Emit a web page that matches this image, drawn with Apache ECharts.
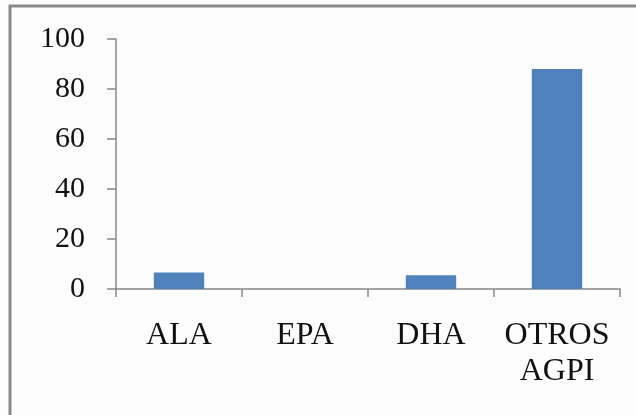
<!DOCTYPE html>
<html>
<head>
<meta charset="utf-8">
<script src="https://cdn.jsdelivr.net/npm/echarts@6/dist/echarts.min.js"></script>
<style>
  html, body { margin: 0; padding: 0; background: #fdfdfd; }
  #chart { width: 636px; height: 415px; }
</style>
</head>
<body>
<div id="chart"></div>
<script>
const categories = ['ALA', 'EPA', 'DHA', 'OTROS\nAGPI']
const values = [6.6, 0, 5.5, 88]
const yTicks = [0, 20, 40, 60, 80, 100]

const AXIS_COLOR = '#878787'
const BAR_COLOR = '#4f81bd'
const FONT = 'Liberation Serif'

const chart = echarts.init(document.getElementById('chart'))

chart.setOption({
  backgroundColor: '#fdfdfd',
  animation: false,
  // marco exterior (solo se ven los bordes izquierdo y superior)
  graphic: [{
    type: 'rect',
    shape: { x: 10, y: 6, width: 700, height: 500 },
    style: { fill: 'none', stroke: '#8a8a8a', lineWidth: 3 },
    silent: true,
  }],
  grid: { left: 116, right: 16, top: 39, bottom: 126, containLabel: false },
  xAxis: {
    type: 'category',
    data: categories,
    axisLine: { lineStyle: { color: AXIS_COLOR, width: 1.5 } },
    axisTick: { show: true, length: 8, lineStyle: { color: AXIS_COLOR, width: 1.5 } },
    axisLabel: {
      margin: 29,
      fontFamily: FONT,
      fontSize: 32,
      lineHeight: 36,
      color: '#111',
      interval: 0,
    },
  },
  yAxis: {
    type: 'value',
    min: yTicks[0],
    max: yTicks[yTicks.length - 1],
    interval: yTicks[1] - yTicks[0],
    splitLine: { show: false },
    axisLine: { show: true, lineStyle: { color: AXIS_COLOR, width: 1.5 } },
    axisTick: { show: true, length: 9, lineStyle: { color: AXIS_COLOR, width: 1.5 } },
    axisLabel: {
      margin: 31,
      fontFamily: FONT,
      fontSize: 30,
      color: '#111',
    },
  },
  series: [{
    type: 'bar',
    data: values,
    barWidth: '40%',
    itemStyle: { color: BAR_COLOR },
  }],
})
</script>
</body>
</html>
